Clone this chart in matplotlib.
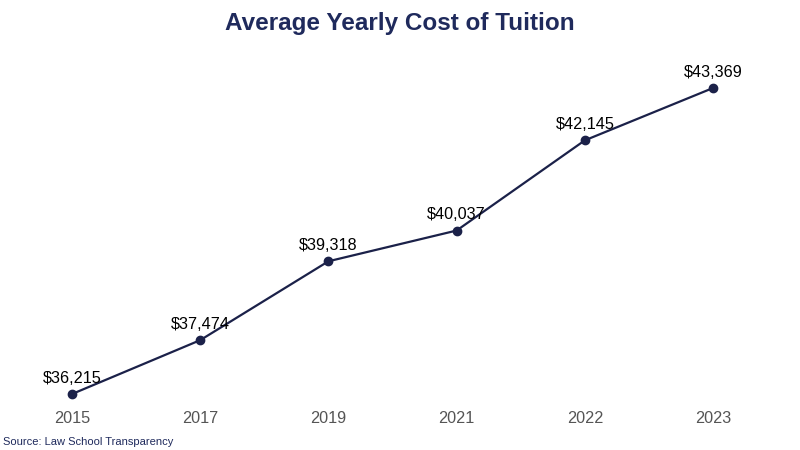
import matplotlib
matplotlib.use("Agg")
import matplotlib.pyplot as plt

years = ["2015", "2017", "2019", "2021", "2022", "2023"]
costs = [36215, 37474, 39318, 40037, 42145, 43369]

plt.rcParams['font.family'] = ['Liberation Sans', 'DejaVu Sans']

navy = "#1f2a5c"
line_c = "#1b2149"

fig = plt.figure(figsize=(8, 4.5), dpi=100)
ax = fig.add_axes([0.0099, 0.1111, 0.9615, 0.7556])
x = list(range(len(years)))
ax.plot(x, costs, color=line_c, lw=1.6, marker="o", markersize=6, zorder=3)
for xi, v in zip(x, costs):
    ax.annotate(f"${v:,}", (xi, v), xytext=(0, 6), textcoords="offset points",
                ha="center", va="bottom", fontsize=11.7, color="black")
ax.set_xlim(-0.5, 5.5)
ax.set_ylim(36075, 44024)
ax.set_xticks(x)
ax.set_xticklabels(years, fontsize=11.7, color="#555555")
ax.tick_params(axis="x", length=0, pad=8)
ax.set_yticks([])
for s in ax.spines.values():
    s.set_visible(False)

fig.text(0.5, 0.948, "Average Yearly Cost of Tuition", ha="center", va="center",
         fontsize=17.5, fontweight="bold", color=navy)
fig.text(0.004, 0.018, "Source: Law School Transparency", ha="left", va="center",
         fontsize=8, color=navy)

fig.savefig("out.png", dpi=100)
